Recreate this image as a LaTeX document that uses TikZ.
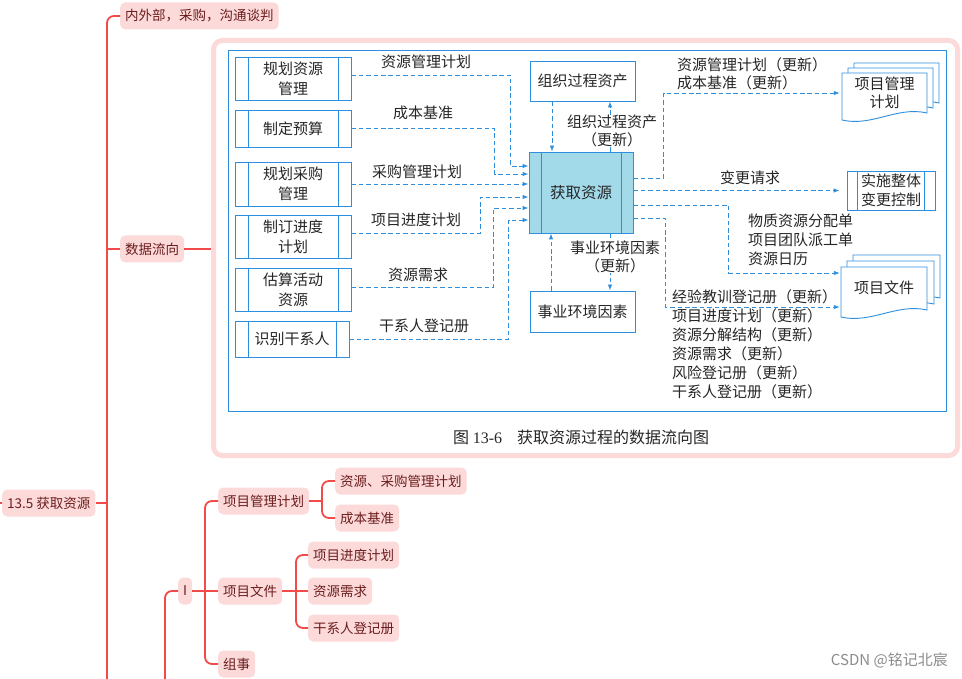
\documentclass[tikz,border=0pt]{standalone}
\usepackage{fontspec}
\setmainfont{Noto Sans CJK SC}
\newfontfamily\serifnum{Liberation Serif}
\usetikzlibrary{arrows.meta,calc}
\definecolor{mmline}{HTML}{F24A48}
\definecolor{mmfill}{HTML}{FDDADA}
\definecolor{mmtext}{HTML}{6B1D1D}
\definecolor{frpink}{HTML}{FDDADA}
\definecolor{dblue}{HTML}{2E8FDF}
\definecolor{dfill}{HTML}{A3DAEA}
\definecolor{dtext}{HTML}{262626}
\definecolor{wmark}{HTML}{8C8C8C}
\newcommand{\dgmfont}{\fontsize{15}{20}\selectfont}
\newcommand{\docshape}[4]{%
  \filldraw[fill=white,draw=dblue,line width=0.9pt]
    (#1,#2) -- (#3,#2) -- (#3,#4-7)
    .. controls (#3-30,#4-14) and (#1+30,#4+7) .. (#1,#4) -- cycle;}
\newcommand{\plines}[3]{%
  \draw[dblue,line width=0.9pt] ([xshift=#2pt]#1.north west) -- ([xshift=#2pt]#1.south west)
    ([xshift=-#3pt]#1.north east) -- ([xshift=-#3pt]#1.south east);}
\tikzset{
  mm/.style={fill=mmfill, rounded corners=5pt, text=mmtext, font=\fontsize{13.5}{16}\selectfont,
    inner xsep=5pt, inner ysep=0pt, minimum height=27pt, anchor=west},
  mml/.style={draw=mmline, line width=1.8pt},
  proc/.style={draw=dblue, line width=0.9pt, fill=white, text=dtext, font=\dgmfont,
    align=center, inner sep=0pt},
  lbl/.style={text=dtext, font=\dgmfont, inner sep=1pt},
  flow/.style={draw=dblue, line width=0.9pt, dash pattern=on 4.6pt off 2.8pt,
    -{Latex[length=6pt,width=4.5pt]}},
}
\begin{document}
\begin{tikzpicture}[x=1pt,y=-1pt]
\useasboundingbox (0,0) rectangle (962,679);
\fill[white] (0,0) rectangle (962,679);

% ---------------- mind map ----------------
\node[mm] (m1) at (120,16) {内外部，采购，沟通谈判};
\node[mm] (m2) at (120,249) {数据流向};
\node[mm] (root) at (2,503) {13.5 获取资源};
\node[mm] (mi) at (178,591) {I};
\node[mm] (mp) at (218,501) {项目管理计划};
\node[mm] (mf) at (218,591) {项目文件};
\node[mm] (mz) at (218,664) {组事};
\node[mm] (a1) at (335,481) {资源、采购管理计划};
\node[mm] (a2) at (335,518) {成本基准};
\node[mm] (b1) at (308,555) {项目进度计划};
\node[mm] (b2) at (308,591) {资源需求};
\node[mm] (b3) at (308,628) {干系人登记册};

\node[draw=frpink, line width=5pt, rounded corners=9pt, minimum width=744pt,
  minimum height=415pt, fill=white] (fr) at (585.5,248) {};

\coordinate (tb) at (107,679);
\coordinate (s0) at (0,503);
\coordinate (ib) at (165,679);
\coordinate (j1) at (205,591);
\coordinate (j2) at (322,501);
\coordinate (j3) at (296,591);
\draw[mml, rounded corners=7pt] (tb) |- (m1.west);
\draw[mml] (root.east) -- (root.east -| tb);
\draw[mml] (s0) -- (root.west);
\draw[mml] (m2.west -| tb) -- (m2.west);
\draw[mml] (m2.east) -- (m2.east -| fr.west);
\draw[mml, rounded corners=7pt] (ib) |- (mi.west);
\draw[mml] (mi.east) -- (mf.west);
\draw[mml, rounded corners=7pt] (mp.west) -| (j1) |- (mz.west);
\draw[mml] (mp.east) -- (j2);
\draw[mml, rounded corners=7pt] (a1.west) -| (j2) |- (a2.west);
\draw[mml] (mf.east) -- (b2.west);
\draw[mml, rounded corners=7pt] (b1.west) -| (j3) |- (b3.west);

% ---------------- data flow diagram ----------------
\draw[dblue, line width=1pt] (228,51) rectangle (946,411);

\node[proc, minimum width=116pt, minimum height=43pt] (p1) at (293,78.5) {规划资源\\管理};
\node[proc, minimum width=116pt, minimum height=37pt] (p2) at (293,128.5) {制定预算};
\node[proc, minimum width=116pt, minimum height=44pt] (p3) at (293,184) {规划采购\\管理};
\node[proc, minimum width=116pt, minimum height=43pt] (p4) at (293,236.5) {制订进度\\计划};
\node[proc, minimum width=116pt, minimum height=43pt] (p5) at (293,289.5) {估算活动\\资源};
\node[proc, minimum width=114pt, minimum height=36pt] (p6) at (292,339) {识别干系人};
\foreach \n in {p1,p2,p3,p4,p5,p6} {\plines{\n}{14}{13}}

\node[proc, fill=dfill, minimum width=104pt, minimum height=81pt, font=\fontsize{15.5}{20}\selectfont] (g) at (581,192.5) {获取资源};
\plines{g}{13}{12}
\node[proc, minimum width=105pt, minimum height=40pt] (o) at (582.5,81) {组织过程资产};
\node[proc, minimum width=105pt, minimum height=41pt] (e) at (582.5,311.5) {事业环境因素};
\node[proc, minimum width=88pt, minimum height=39pt, font=\fontsize{15}{19}\selectfont] (ic) at (891,190.5) {实施整体\\变更控制};
\plines{ic}{11}{11}

% documents
\docshape{854}{63}{939}{110}
\docshape{848}{68}{933}{115}
\docshape{842}{73}{927}{120}
\docshape{853}{255}{940}{305}
\docshape{847}{261}{934}{311}
\docshape{841}{267}{927}{317}
\node[lbl, minimum width=85pt, align=center, font=\fontsize{15}{18}\selectfont, inner sep=0pt] (pm) at (884.5,93) {项目管理\\计划};
\node[lbl, minimum width=86pt, inner sep=0pt] (pd) at (884,288) {项目文件};

% input flows
\draw[flow] ([yshift=3.5pt]p1.east) -| ([xshift=-18pt,yshift=26.5pt]g.west) -- ([yshift=26.5pt]g.west);
\draw[flow] (p2.east) -| ([xshift=-34pt,yshift=18.5pt]g.west) -- ([yshift=18.5pt]g.west);
\draw[flow] (p3.east) -- (p3.east -| g.west);
\draw[flow] ([yshift=3.5pt]p4.east) -| ([xshift=-48pt,yshift=-4.5pt]g.west) -- ([yshift=-4.5pt]g.west);
\draw[flow] ([yshift=2.5pt]p5.east) -| ([xshift=-35pt,yshift=-15.5pt]g.west) -- ([yshift=-15.5pt]g.west);
\draw[flow] (p6.east) -| ([xshift=-20pt,yshift=-27.5pt]g.west) -- ([yshift=-27.5pt]g.west);

\node[lbl] (l1) at (426,62) {资源管理计划};
\node[lbl] (l2) at (423,113) {成本基准};
\node[lbl] (l3) at (417,172) {采购管理计划};
\node[lbl] (l4) at (416,220) {项目进度计划};
\node[lbl] (l5) at (418,275) {资源需求};
\node[lbl] (l6) at (424,326) {干系人登记册};

% vertical flows
\draw[flow] ([xshift=-30.5pt]o.south) -- ([xshift=-29pt]g.north);
\draw[flow] ([xshift=29pt]g.north) -- ([xshift=27.5pt]o.south);
\draw[flow] ([xshift=-31.5pt]e.north) -- ([xshift=-30pt]g.south);
\draw[flow] ([xshift=29pt]g.south) -- ([xshift=27.5pt]e.north);
\node[lbl, fill=white, align=center, font=\fontsize{15}{18}\selectfont, inner sep=0pt] (lo) at (612,131) {组织过程资产\\（更新）};
\node[lbl, fill=white, align=center, font=\fontsize{15}{18}\selectfont, inner sep=0pt] (le) at (615,257) {事业环境因素\\（更新）};

% output flows
\draw[flow, shorten >=2pt] ([yshift=14.5pt]g.east) -| ([xshift=-178pt]pm.west) -- (pm.west);
\draw[flow, shorten >=7pt] ([yshift=2pt]g.east) -- (ic.west);
\draw[flow, shorten >=1pt] ([yshift=-12.5pt]g.east) -| ([xshift=-112pt,yshift=15pt]pd.west) -- ([yshift=15pt]pd.west);
\draw[flow, shorten >=1pt] ([yshift=-25.5pt]g.east) -| ([xshift=-175pt,yshift=-19pt]pd.west) -- ([yshift=-19pt]pd.west);

\node[lbl, anchor=west, align=left, font=\fontsize{15}{18}\selectfont] (l7) at (676,74) {资源管理计划（更新）\\成本基准（更新）};
\node[lbl] (l8) at (750,178) {变更请求};
\node[lbl, anchor=west, align=left, font=\fontsize{15}{19}\selectfont] (l9) at (747,240) {物质资源分配单\\项目团队派工单\\资源日历};
\node[lbl, anchor=west, align=left, font=\fontsize{15}{19}\selectfont] (l10) at (671,344.5) {经验教训登记册（更新）\\项目进度计划（更新）\\资源分解结构（更新）\\资源需求（更新）\\风险登记册（更新）\\干系人登记册（更新）};

% caption
\node[lbl, anchor=west, font=\fontsize{16}{18}\selectfont] (cap) at (452,437) {图 {\serifnum 13-6}\hspace{15pt}获取资源过程的数据流向图};

% watermark
\node[anchor=east, text=wmark, font=\fontsize{15}{17}\selectfont, inner sep=0pt] (wm) at (948,660) {CSDN @铭记北宸};
\end{tikzpicture}
\end{document}
